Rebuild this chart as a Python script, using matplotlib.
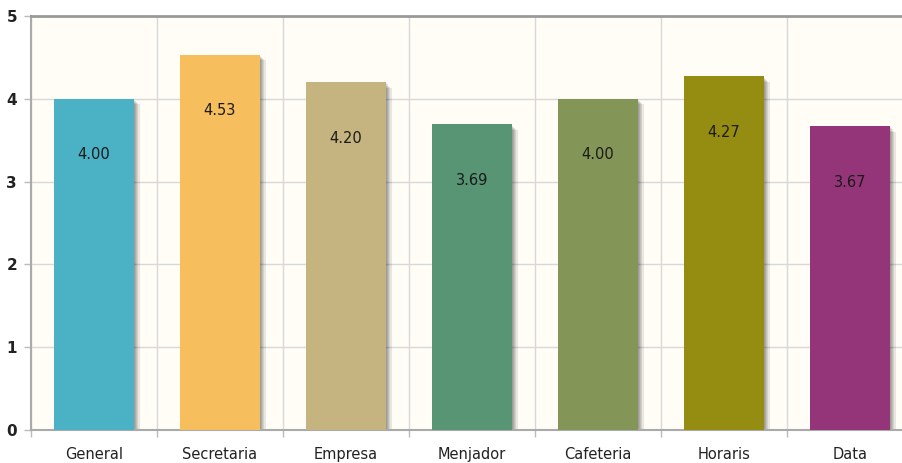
import matplotlib
matplotlib.use("Agg")
import matplotlib.pyplot as plt
import matplotlib.transforms as mtransforms
import numpy as np

categories = ["General", "Secretaria", "Empresa", "Menjador", "Cafeteria", "Horaris", "Data"]
values = [4.00, 4.53, 4.20, 3.69, 4.00, 4.27, 3.67]
colors = ["#4bb2c5", "#f7be5d", "#c5b47f", "#579575", "#839557", "#958c12", "#953579"]
yticks = [0, 1, 2, 3, 4, 5]

fig = plt.figure(figsize=(9.02, 4.63), dpi=100)
W, H = 902, 463
left, right, top, bottom = 31, 902, 16, 430
ax = fig.add_axes([left / W, (H - bottom) / H, (right - left) / W, (bottom - top) / H])
ax.set_facecolor("#fffdf6")

x = np.arange(len(categories))
bw = 80 / 126

# shadows
for i in range(1, 6):
    off = mtransforms.offset_copy(ax.transData, fig=fig, x=i * 1.1, y=-i * 1.1, units="dots")
    ax.bar(x, values, width=bw, color="black", alpha=0.09, transform=off, zorder=2, linewidth=0)

ax.bar(x, values, width=bw, color=colors, zorder=3, linewidth=0)

for xi, v in zip(x, values):
    lbl_off = mtransforms.offset_copy(ax.transData, fig=fig, x=0, y=-56, units="dots")
    ax.text(xi, v, f"{v:.2f}", transform=lbl_off, ha="center", va="center",
            fontsize=10.5, color="#1a1a1a", zorder=4)

ax.set_yticks(yticks)
ax.set_yticklabels([str(t) for t in yticks], fontsize=11, fontweight="bold", color="#222222")
ax.set_xticks(x)
ax.set_xticklabels(categories, fontsize=10.5, color="#222222")
ax.set_xticks(np.arange(len(categories) + 1) - 0.5, minor=True)

ax.grid(True, axis="y", color="#d8d8d8", linewidth=1, zorder=0)
ax.grid(True, axis="x", which="minor", color="#d8d8d8", linewidth=1, zorder=0)
ax.set_axisbelow(True)

ax.tick_params(axis="x", which="major", length=0, pad=12)
ax.tick_params(axis="x", which="minor", length=5, color="#bbbbbb", width=1)
ax.tick_params(axis="y", length=5, color="#bbbbbb", width=1, pad=5)

for s in ["left", "bottom"]:
    ax.spines[s].set_color("#aaaaaa")
    ax.spines[s].set_linewidth(1.5)
ax.spines["top"].set_color("#999999")
ax.spines["top"].set_linewidth(2)
ax.spines["right"].set_visible(False)

ax.set_xlim(-0.5, -0.5 + (right - left) / 126)
ax.set_ylim(0, 5)

fig.savefig("out.png", dpi=100, facecolor="white")
